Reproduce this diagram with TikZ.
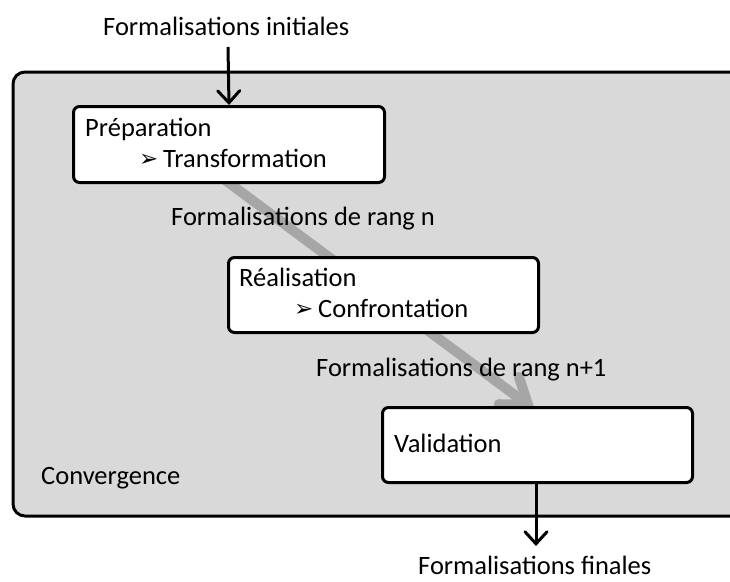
\documentclass[tikz,border=0pt]{standalone}
\usepackage{fontspec}
\setmainfont{Carlito}
\newfontfamily\dingfont{DejaVu Sans}
\usetikzlibrary{arrows.meta}
\begin{document}
\begin{tikzpicture}[x=1pt,y=-1pt,
  lbl/.style={font=\fontsize{26.5}{30}\selectfont, inner sep=0pt, anchor=base west},
  ding/.style={font=\dingfont\fontsize{23}{26}\selectfont, inner sep=0pt, anchor=base west},
  stepbox/.style={draw=black, line width=3pt, fill=white, rounded corners=6pt},
  blackarrow/.style={line width=3pt, -{Straight Barb[length=12pt,width=22pt,line cap=round]}},
  grayarrow/.style={draw={rgb,255:red,166;green,166;blue,166}, line width=10pt, line cap=butt, -{Straight Barb[length=24pt,width=34pt,line cap=round]}}
]
\useasboundingbox (0,0) rectangle (730,581);
\clip (0,0) rectangle (730,581);
\fill[white] (0,0) rectangle (730,581);
% big container
\draw[line width=3pt, fill={rgb,255:red,217;green,217;blue,217}, rounded corners=12pt] (13,72) rectangle (760,516);
% anchors
\coordinate (prepSW) at (72,181);
\coordinate (validNW) at (381,406);
% gray arrow (behind boxes)
\draw[grayarrow] ([xshift=153pt,yshift=1pt]prepSW) -- ([xshift=154pt,yshift=-4pt]validNW);
% boxes
\node[stepbox, minimum width=311pt, minimum height=76pt, anchor=north west] (prep) at (72,105) {};
\node[stepbox, minimum width=310pt, minimum height=75pt, anchor=north west] (real) at (227,256) {};
\node[stepbox, minimum width=310pt, minimum height=75pt, anchor=north west] (valid) at (381,406) {};
% texts
\node[lbl] (tinit) at (103,35) {Formalisations initiales};
\node[lbl] (tprep) at (85,136) {Préparation};
\node[ding] (bprep) at (139,166) {➢};
\node[lbl] (ttrans) at (163,167) {Transformation};
\node[lbl] (trangn) at (171,225) {Formalisations de rang n};
\node[lbl] (treal) at (239,286) {Réalisation};
\node[ding] (breal) at (294,316) {➢};
\node[lbl] (tconf) at (318,317) {Confrontation};
\node[lbl] (trangn1) at (316,376) {Formalisations de rang n+1};
\node[lbl] (tvalid) at (394,452) {Validation};
\node[lbl] (tconv) at (41,484) {Convergence};
\node[lbl] (tfinal) at (418,574) {Formalisations finales};
% black arrows
\coordinate (initS) at (228,47);
\draw[blackarrow] (initS) -- (prep.north);
\coordinate (finalN) at (536,546);
\draw[blackarrow] (valid.south -| finalN) -- (finalN);
\end{tikzpicture}
\end{document}
